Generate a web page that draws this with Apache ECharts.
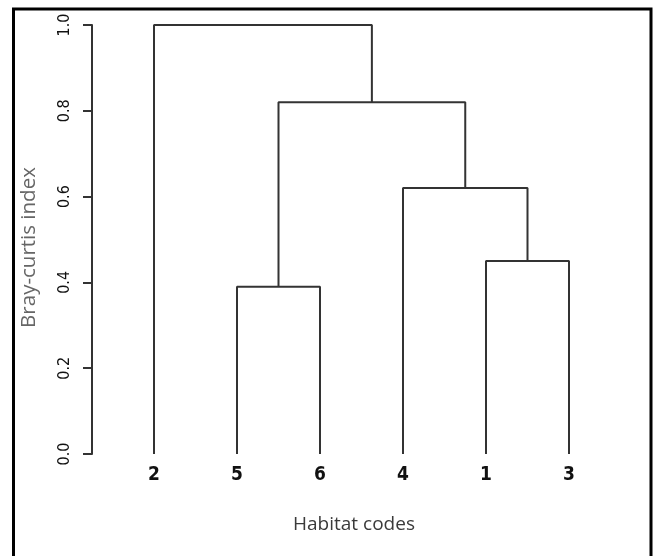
<!DOCTYPE html>
<html>
<head>
<meta charset="utf-8">
<script src="https://cdn.jsdelivr.net/npm/echarts@6/dist/echarts.min.js"></script>
<style>html,body{margin:0;padding:0;background:#fff}#c{width:657px;height:556px}</style>
</head>
<body>
<div id="c"></div>
<script>
// Leaf order along the x axis (habitat codes)
const leafOrder = [2, 5, 6, 4, 1, 3];
// Merge table (R hclust convention: negative = observation, positive = earlier merge)
const mergeLeft = [-5, -1, -4, 1, -2];
const mergeRight = [-6, -3, 2, 3, 4];
const mergeHeight = [0.39, 0.45, 0.62, 0.82, 1.0];
// Y tick labels
const yTicks = [0.0, 0.2, 0.4, 0.6, 0.8, 1.0];

const nodeX = [], nodeY = [];
function pos(id) {
  if (id < 0) return [leafOrder.indexOf(-id) + 1, 0];
  return [nodeX[id - 1], nodeY[id - 1]];
}
const series = [];
for (let i = 0; i < mergeHeight.length; i++) {
  const a = pos(mergeLeft[i]), b = pos(mergeRight[i]), h = mergeHeight[i];
  nodeX.push((a[0] + b[0]) / 2); nodeY.push(h);
  series.push({
    type: 'line', xAxisIndex: 0, yAxisIndex: 0, symbol: 'none', animation: false,
    lineStyle: { color: '#333', width: 2 },
    data: [[a[0], a[1]], [a[0], h], [b[0], h], [b[0], b[1]]]
  });
}

const chart = echarts.init(document.getElementById('c'), null, { renderer: 'canvas' });
chart.setOption({
  animation: false,
  backgroundColor: '#fff',
  grid: [
    { left: 71, right: 5, top: 25, bottom: 102 },
    { left: 92, width: 1, top: 25, bottom: 102 }
  ],
  xAxis: [
    {
      gridIndex: 0, type: 'value', min: 0, max: 7, interval: 1,
      name: 'Habitat codes', nameLocation: 'middle', nameGap: 61,
      nameTextStyle: { fontFamily: 'Open Sans', fontSize: 19, color: '#3a3a3a', padding: [0, 15, 0, 0] },
      axisLine: { show: false }, axisTick: { show: false }, splitLine: { show: false },
      axisLabel: {
        margin: 12, fontFamily: '"DejaVu Sans Condensed", "Liberation Sans", sans-serif', fontWeight: 'bold', fontSize: 19, color: '#111',
        formatter: v => (v >= 1 && v <= leafOrder.length) ? String(leafOrder[v - 1]) : ''
      }
    },
    { gridIndex: 1, type: 'value', show: false, min: 0, max: 1 }
  ],
  yAxis: [
    { gridIndex: 0, type: 'value', min: 0, max: 1, show: false },
    {
      gridIndex: 1, type: 'value', min: 0, max: 1, interval: 0.2,
      name: 'Bray-curtis index', nameLocation: 'middle', nameGap: 52,
      nameTextStyle: { fontFamily: 'Open Sans', fontSize: 20.5, color: '#666', padding: [0, 16, 0, 0] },
      axisLine: { show: true, lineStyle: { color: '#333', width: 2 } },
      axisTick: { show: true, length: 9, lineStyle: { color: '#333', width: 2 } },
      splitLine: { show: false },
      axisLabel: {
        rotate: 90, margin: 19, fontFamily: '"DejaVu Sans Condensed", "Liberation Sans", sans-serif', fontSize: 16, color: '#111',
        formatter: v => { const t = yTicks.find(x => Math.abs(x - v) < 1e-9); return t === undefined ? '' : t.toFixed(1); }
      }
    }
  ],
  graphic: [{
    type: 'rect', silent: true,
    shape: { x: 13.5, y: 9, width: 637.5, height: 560 },
    style: { fill: 'none', stroke: '#000', lineWidth: 3 }
  }],
  series: series
});
</script>
</body>
</html>
